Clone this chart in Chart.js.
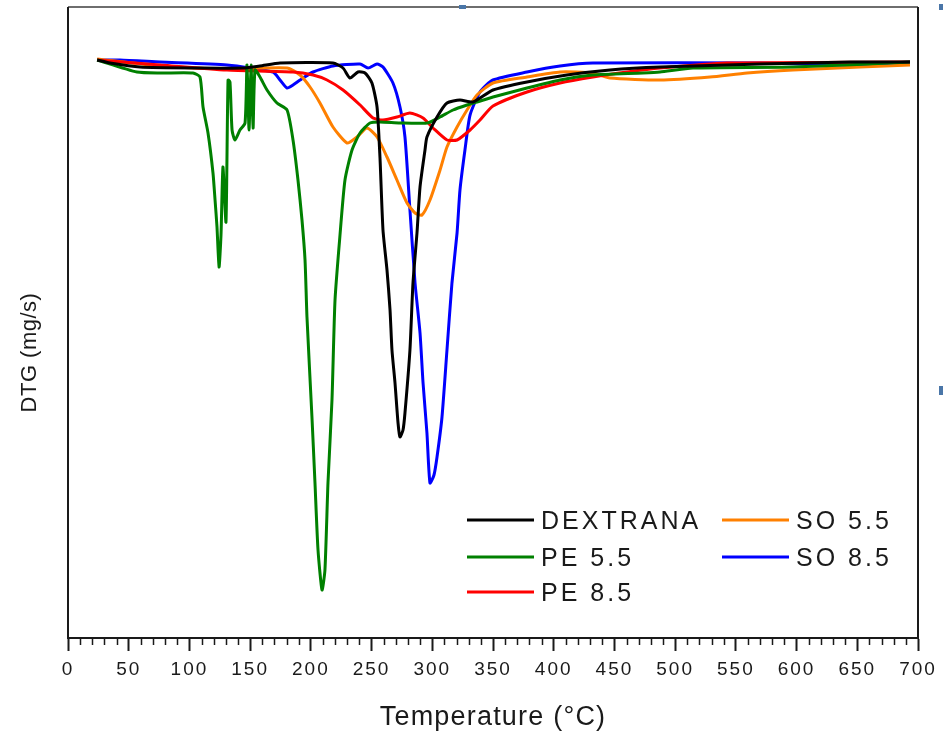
<!DOCTYPE html>
<html>
<head>
<meta charset="utf-8">
<script src="https://cdn.jsdelivr.net/npm/chart.js@4"></script>
<style>
  html, body { margin: 0; padding: 0; background: #fff; }
  #wrap { width: 943px; height: 735px; }
</style>
</head>
<body>
<div id="wrap"><canvas id="grafico" width="943" height="735"></canvas></div>
<script>
// -------- DADOS --------

const nomes = ["DEXTRANA", "PE 5.5", "PE 8.5", "SO 5.5", "SO 8.5"];
const cores = ["#000000", "#008000", "#ff0000", "#ff8000", "#0000ff"];

const xTicks = [0, 50, 100, 150, 200, 250, 300, 350, 400, 450, 500, 550, 600, 650, 700];

const dextranaT = [24, 34.6, 59.3, 108.7, 144.1, 158, 174.6, 218.2, 226.5, 232.2, 238.8, 244.6, 250.3, 254.5, 256.9, 259.4, 262.7, 265.2, 266.8, 269.3, 271.8, 273.4, 275.9, 277.5, 281.6, 284.1, 287.4, 289.9, 294.0, 295.6, 303.9, 312.1, 322.8, 333.5, 350, 378, 410.9, 446.3, 487.5, 569.9, 644, 693.4];
const dextranaDTG = [0, -0.03, -0.07, -0.08, -0.08, -0.06, -0.03, -0.03, -0.08, -0.18, -0.12, -0.13, -0.23, -0.47, -0.97, -1.70, -2.10, -2.50, -2.90, -3.23, -3.63, -3.77, -3.70, -3.53, -2.90, -2.23, -1.73, -1.27, -0.90, -0.77, -0.57, -0.43, -0.40, -0.42, -0.30, -0.22, -0.15, -0.10, -0.07, -0.04, -0.02, -0.02];

const pe55T = [24, 56.8, 75.8, 102.9, 108.7, 111.2, 115.3, 119.4, 121.1, 122.7, 124.4, 126.0, 127.6, 130.1, 131.8, 133.4, 135.1, 137.5, 141.6, 145.8, 147.4, 149.1, 150.7, 152.4, 154.0, 158.1, 163.9, 172.1, 180.4, 185.3, 189.4, 192.7, 195.2, 196.8, 200.9, 203.4, 205.9, 209.2, 211.6, 214.1, 217.4, 219.9, 224.0, 228.1, 233.9, 240.5, 248.7, 256.9, 273.4, 295.6, 306.4, 317.1, 328.6, 336.8, 350, 378, 405.2, 432.3, 473.5, 487.5, 514.7, 597.1, 693.4];
const pe55DTG = [0, -0.12, -0.13, -0.13, -0.17, -0.47, -0.73, -1.13, -1.40, -1.67, -2.07, -1.75, -1.07, -1.62, -0.20, -0.22, -0.70, -0.80, -0.70, -0.63, -0.05, -0.70, -0.05, -0.68, -0.10, -0.17, -0.30, -0.43, -0.50, -0.80, -1.20, -1.60, -2.00, -2.57, -3.57, -4.23, -4.90, -5.30, -5.10, -4.23, -3.40, -2.40, -1.75, -1.20, -0.90, -0.73, -0.63, -0.62, -0.63, -0.63, -0.57, -0.50, -0.45, -0.42, -0.37, -0.28, -0.20, -0.15, -0.13, -0.12, -0.08, -0.07, -0.02];

const pe85T = [24, 75.8, 130.9, 185.3, 201.8, 213.3, 226.5, 240.5, 251.2, 259.4, 270.9, 281.6, 292.4, 300.6, 312.1, 320.4, 331.1, 339.3, 350, 378, 405.2, 432.3, 460.3, 487.5, 542.7, 693.4];
const pe85DTG = [0, -0.05, -0.10, -0.12, -0.15, -0.20, -0.30, -0.45, -0.58, -0.60, -0.57, -0.53, -0.58, -0.68, -0.80, -0.80, -0.70, -0.60, -0.46, -0.32, -0.23, -0.17, -0.12, -0.08, -0.03, -0.02];

const so55T = [24, 75.8, 130.9, 180.4, 191.1, 199.3, 207.5, 218.2, 229.8, 238.0, 246.2, 254.5, 262.7, 270.9, 279.2, 285.8, 291.5, 298.1, 306.4, 312.1, 320.4, 328.6, 336.8, 350, 378, 405.2, 432.3, 446.3, 487.5, 528.7, 559.2, 597.1, 652.2, 693.4];
const so55DTG = [0.01, -0.06, -0.09, -0.08, -0.15, -0.27, -0.43, -0.67, -0.83, -0.77, -0.68, -0.77, -0.97, -1.20, -1.43, -1.53, -1.55, -1.40, -1.10, -0.87, -0.67, -0.50, -0.35, -0.23, -0.17, -0.12, -0.13, -0.18, -0.20, -0.17, -0.13, -0.10, -0.07, -0.05];

const so85T = [24, 42.8, 75.8, 130.9, 168.8, 174.6, 180.4, 185.3, 191.1, 201.8, 218.2, 240.5, 247.1, 254.5, 259.4, 267.6, 273.4, 277.5, 281.6, 285.8, 289.9, 292.4, 295.6, 298.1, 301.4, 303.9, 308.0, 312.1, 316.2, 320.4, 322.8, 326.9, 331.1, 339.3, 350, 378, 405.2, 432.3, 569.9, 652.2, 693.4];
const so85DTG = [0, 0, -0.02, -0.05, -0.12, -0.20, -0.28, -0.25, -0.20, -0.12, -0.06, -0.04, -0.08, -0.04, -0.07, -0.23, -0.47, -0.77, -1.50, -2.23, -2.73, -3.23, -3.73, -4.23, -4.15, -3.97, -3.57, -2.90, -2.23, -1.73, -1.30, -0.90, -0.55, -0.32, -0.20, -0.12, -0.06, -0.03, -0.03, -0.05, -0.02];

const series = [
  [dextranaT, dextranaDTG],
  [pe55T, pe55DTG],
  [pe85T, pe85DTG],
  [so55T, so55DTG],
  [so85T, so85DTG]
];

// junta x e y em pontos
const pontos = (xs, ys) => xs.map((x, i) => ({ x: x, y: ys[i] }));

const datasets = series.map((s, i) => ({
  label: nomes[i],
  data: pontos(s[0], s[1]),
  borderColor: cores[i],
  backgroundColor: cores[i],
  borderWidth: 3,
  pointRadius: 0,
  tension: 0.2,
  fill: false
}));

// -------- PLUGIN: moldura, ticks menores, títulos e legenda --------

const extras = {
  id: "extras",
  beforeDraw(chart) {
    chart.ctx.letterSpacing = "2px";
  },
  afterDraw(chart) {
    const ctx = chart.ctx;
    const a = chart.chartArea;
    const sx = chart.scales.x;

    ctx.save();
    ctx.letterSpacing = "0px";

    // moldura
    ctx.lineWidth = 2;
    ctx.strokeStyle = "#6e6e6e";
    ctx.beginPath();
    ctx.moveTo(a.left, a.top);
    ctx.lineTo(a.right, a.top);
    ctx.stroke();
    ctx.strokeStyle = "#1a1a1a";
    ctx.beginPath();
    ctx.moveTo(a.left, a.top);
    ctx.lineTo(a.left, a.bottom);
    ctx.moveTo(a.right, a.top);
    ctx.lineTo(a.right, a.bottom);
    ctx.stroke();

    // ticks menores de 10 em 10
    ctx.lineWidth = 1.5;
    ctx.beginPath();
    for (let v = 0; v <= 700; v += 10) {
      if (v % 50 === 0) continue;
      const px = Math.round(sx.getPixelForValue(v)) + 0.5;
      ctx.moveTo(px, a.bottom);
      ctx.lineTo(px, a.bottom + 7);
    }
    ctx.stroke();

    // títulos dos eixos
    ctx.fillStyle = "#1a1a1a";
    ctx.textAlign = "center";
    ctx.textBaseline = "alphabetic";
    ctx.font = "27px 'Liberation Sans', Arial, sans-serif";
    ctx.letterSpacing = "1.2px";
    ctx.fillText("Temperature (°C)", (a.left + a.right) / 2, 725);

    ctx.save();
    ctx.translate(36, (a.top + a.bottom) / 2 + 30);
    ctx.rotate(-Math.PI / 2);
    ctx.font = "22px 'Liberation Sans', Arial, sans-serif";
    ctx.letterSpacing = "0.5px";
    ctx.fillText("DTG (mg/s)", 0, 0);
    ctx.restore();

    // legenda
    const pos = [
      [467, 520], [467, 557], [467, 592],
      [722, 520], [722, 557]
    ];
    ctx.textAlign = "left";
    ctx.font = "25px 'Liberation Sans', Arial, sans-serif";
    ctx.letterSpacing = "3px";
    chart.data.datasets.forEach((d, i) => {
      const [lx, ly] = pos[i];
      ctx.strokeStyle = d.borderColor;
      ctx.lineWidth = 3;
      ctx.beginPath();
      ctx.moveTo(lx, ly);
      ctx.lineTo(lx + 67, ly);
      ctx.stroke();
      ctx.fillStyle = "#1a1a1a";
      ctx.fillText(d.label, lx + 74, ly + 9);
    });

    // marcas azuis da seleção
    ctx.fillStyle = "#4a76a8";
    ctx.fillRect(459, 5, 7, 4);
    ctx.fillRect(939, 4, 4, 6);
    ctx.fillRect(939, 386, 4, 9);

    ctx.restore();
  }
};

new Chart(document.getElementById("grafico"), {
  type: "line",
  data: { datasets: datasets },
  options: {
    responsive: false,
    animation: false,
    layout: {
      padding: { left: 68, right: 25, top: 7, bottom: 0 }
    },
    plugins: {
      legend: { display: false },
      tooltip: { enabled: false }
    },
    scales: {
      x: {
        type: "linear",
        min: 0,
        max: 700,
        afterBuildTicks: scale => {
          scale.ticks = xTicks.map(v => ({ value: v }));
        },
        afterFit: scale => {
          scale.height = 97;
        },
        border: { display: true, color: "#1a1a1a", width: 2 },
        grid: {
          drawOnChartArea: false,
          drawTicks: true,
          tickLength: 13,
          tickColor: "#1a1a1a",
          tickWidth: 2
        },
        ticks: {
          padding: 7,
          color: "#1a1a1a",
          font: { family: "'Liberation Sans', Arial, sans-serif", size: 19 }
        }
      },
      y: {
        display: false,
        min: -5.78,
        max: 0.53
      }
    }
  },
  plugins: [extras]
});
</script>
</body>
</html>
